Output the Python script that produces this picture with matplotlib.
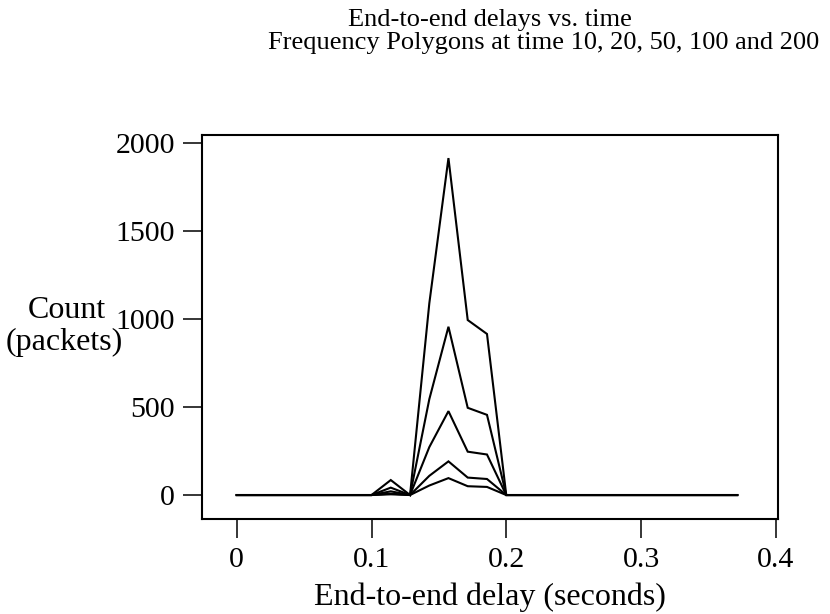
import matplotlib
matplotlib.use("Agg")
import matplotlib.pyplot as plt

# Bin centres (seconds)
delay = [0.0, 0.0143, 0.0286, 0.0429, 0.0571, 0.0714, 0.0857, 0.1, 0.1143,
         0.1286, 0.1429, 0.1571, 0.1714, 0.1857, 0.2, 0.2143, 0.2286, 0.2429,
         0.2571, 0.2714, 0.2857, 0.3, 0.3143, 0.3286, 0.3429, 0.3571, 0.3714]

count_t10 = [0, 0, 0, 0, 0, 0, 0, 0, 4, 0, 54, 96, 50, 46, 0,
             0, 0, 0, 0, 0, 0, 0, 0, 0, 0, 0, 0]
count_t20 = [0, 0, 0, 0, 0, 0, 0, 0, 8, 0, 109, 191, 99, 91, 0,
             0, 0, 0, 0, 0, 0, 0, 0, 0, 0, 0, 0]
count_t50 = [0, 0, 0, 0, 0, 0, 0, 0, 21, 0, 272, 476, 246, 230, 0,
             0, 0, 0, 0, 0, 0, 0, 0, 0, 0, 0, 0]
count_t100 = [0, 0, 0, 0, 0, 0, 0, 0, 42, 0, 544, 955, 495, 455, 0,
              0, 0, 0, 0, 0, 0, 0, 0, 0, 0, 0, 0]
count_t200 = [0, 0, 0, 0, 0, 0, 0, 0, 85, 0, 1088, 1912, 993, 914, 0,
              0, 0, 0, 0, 0, 0, 0, 0, 0, 0, 0, 0]

xticks = [0, 0.1, 0.2, 0.3, 0.4]
xticklabels = ["0", "0.1", "0.2", "0.3", "0.4"]
yticks = [0, 500, 1000, 1500, 2000]
yticklabels = ["0", "500", "1000", "1500", "2000"]

plt.rcParams['font.family'] = ['Liberation Serif', 'DejaVu Serif']

W, H = 830, 614
fig = plt.figure(figsize=(W / 100, H / 100), dpi=100)
ax = fig.add_axes([202 / W, 1 - 519 / H, (777.5 - 202) / W, (519 - 135) / H])

for series in (count_t10, count_t20, count_t50, count_t100, count_t200):
    ax.plot(delay, series, color='black', linewidth=1.5, solid_joinstyle='miter')

ax.set_xlim(-0.0258, 0.4013)
ax.set_ylim(-136, 2043)
ax.set_xticks(xticks)
ax.set_xticklabels(xticklabels)
ax.set_yticks(yticks)
ax.set_yticklabels(yticklabels)
ax.tick_params(axis='both', direction='out', length=13.5, width=1.1,
               labelsize=21.5, color='black')
ax.tick_params(axis='x', pad=7)
ax.tick_params(axis='y', pad=6)
for sp in ax.spines.values():
    sp.set_linewidth(1.5)
    sp.set_color('black')

fig.text(490 / W, 1 - 26 / H, "End-to-end delays vs. time", ha='center',
         va='baseline', fontsize=19)
fig.text(544 / W, 1 - 49 / H, "Frequency Polygons at time 10, 20, 50, 100 and 200",
         ha='center', va='baseline', fontsize=19)
fig.text(490 / W, 1 - 605 / H, "End-to-end delay (seconds)", ha='center',
         va='baseline', fontsize=23)
fig.text(67 / W, 1 - 318 / H, "Count", ha='center', va='baseline', fontsize=23)
fig.text(64 / W, 1 - 350 / H, "(packets)", ha='center', va='baseline', fontsize=23)

fig.savefig("out.png", dpi=100)
